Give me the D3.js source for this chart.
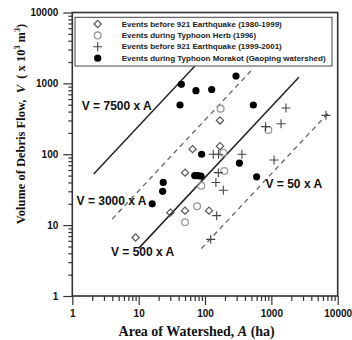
<!DOCTYPE html>
<html><head><meta charset="utf-8">
<script src="https://cdn.jsdelivr.net/npm/d3@7"></script>
<style>body{margin:0;background:#fff}svg{display:block}</style>
</head><body><svg id="c" width="352" height="340"></svg>
<script>
// ---------- data ----------
const tickValues = [1, 10, 100, 1000, 10000];
const tickLabels = ["1", "10", "100", "1000", "10000"];
const legendLabels = [
  "Events before 921 Earthquake (1980-1999)",
  "Events during Typhoon Herb (1996)",
  "Events before 921 Earthquake (1999-2001)",
  "Events during Typhoon Morakot (Gaoping watershed)"
];
// Events before 921 Earthquake (1980-1999)
const preQuakeA = [9, 30, 50, 50, 65, 168, 168, 115];
const preQuakeV = [6.7, 15, 16, 55, 118, 130, 300, 16];
// Events during Typhoon Herb (1996)
const herbA = [50, 76, 88, 172, 189, 195, 900];
const herbV = [11, 18.5, 36, 440, 105, 58, 220];
// Events 1999-2001
const postQuakeA = [133, 160, 159, 146, 189, 150, 122, 360, 820, 1400, 1660, 1100, 6650];
const postQuakeV = [100, 100, 55, 40, 31, 13.6, 6.3, 100, 245, 270, 450, 83, 354];
// Events during Typhoon Morakot
const morakotA = [44, 42, 73, 126, 293, 535, 89, 70, 78, 87, 330, 600, 23.5, 23, 16];
const morakotV = [970, 495, 790, 820, 1270, 495, 100, 50, 50, 49, 75, 48, 40, 30, 20];
// Reference lines V = k x A (as drawn on the picture)
const lineLabels = ["V = 7500 x A", "V = 3000 x A", "V = 500 x A", "V = 50 x A"];
const lineCoef = [25, 3.05, 0.47, 0.053];
const lineFrom = [2.1, 4, 10, 88];
const lineTo = [70, 490, 2600, 7500];
const lineDashed = [false, true, false, true];
// label anchor points in data units (A, V)
const labelA = [1.39, 1.16, 3.83, 817];
const labelV = [486, 22.2, 4.24, 38];

// ---------- drawing ----------
const svg = d3.select("#c");
const x = d3.scaleLog().domain([1, 10000]).range([72.3, 337.7]);
const y = d3.scaleLog().domain([1, 10000]).range([296, 12.5]);
const sans = "'Liberation Sans', Arial, sans-serif";
const serif = "'Liberation Serif', 'Times New Roman', serif";
const axisColor = "#333";

// minor ticks
const minorX = x.ticks().filter(v => !tickValues.includes(v));
const minorY = y.ticks().filter(v => !tickValues.includes(v));

const gx = svg.append("g").attr("transform", `translate(0,${y(1)})`);
gx.call(d3.axisBottom(x).tickValues(minorX).tickSize(5).tickFormat(""));
gx.call(g => g.select(".domain").remove());
const gx2 = svg.append("g").attr("transform", `translate(0,${y(1)})`)
  .call(d3.axisBottom(x).tickValues(tickValues).tickSize(9).tickPadding(5)
    .tickFormat((d, i) => tickLabels[i]));
gx2.select(".domain").remove();
gx2.selectAll("text").attr("font-family", sans).attr("font-weight", "bold")
  .attr("font-size", 10).attr("fill", "#111");

const gy = svg.append("g").attr("transform", `translate(${x(1)},0)`);
gy.call(d3.axisLeft(y).tickValues(minorY).tickSize(4).tickFormat(""));
gy.call(g => g.select(".domain").remove());
const gy2 = svg.append("g").attr("transform", `translate(${x(1)},0)`)
  .call(d3.axisLeft(y).tickValues(tickValues).tickSize(9).tickPadding(5)
    .tickFormat((d, i) => tickLabels[i]));
gy2.select(".domain").remove();
gy2.selectAll("text").attr("font-family", sans).attr("font-weight", "bold")
  .attr("font-size", 10).attr("fill", "#111");
svg.selectAll(".tick line").attr("stroke", axisColor).attr("stroke-width", 1.2);

// frame
svg.append("rect").attr("x", x(1)).attr("y", y(10000))
  .attr("width", x(10000) - x(1)).attr("height", y(1) - y(10000))
  .attr("fill", "none").attr("stroke", axisColor).attr("stroke-width", 1.6);

// reference lines
const lineGen = d3.line().x(d => x(d[0])).y(d => y(d[1]));
lineCoef.forEach((k, i) => {
  const pts = [[lineFrom[i], k * lineFrom[i]], [lineTo[i], k * lineTo[i]]];
  svg.append("path").attr("d", lineGen(pts)).attr("fill", "none")
    .attr("stroke", lineDashed[i] ? "#666" : "#222")
    .attr("stroke-width", lineDashed[i] ? 1.3 : 1.5)
    .attr("stroke-dasharray", lineDashed[i] ? "5,4" : null);
  svg.append("text").attr("x", x(labelA[i])).attr("y", y(labelV[i]))
    .attr("dominant-baseline", "central")
    .attr("font-family", sans).attr("font-weight", "bold").attr("font-size", 12)
    .attr("fill", "#111").text(lineLabels[i]);
});

// markers
function diamond(g, cx, cy) {
  const s = 3.6;
  g.append("path").attr("d", `M${cx},${cy - s}L${cx + s},${cy}L${cx},${cy + s}L${cx - s},${cy}Z`)
    .attr("fill", "none").attr("stroke", "#555").attr("stroke-width", 1.2);
}
function ocircle(g, cx, cy) {
  g.append("circle").attr("cx", cx).attr("cy", cy).attr("r", 3.4)
    .attr("fill", "none").attr("stroke", "#999").attr("stroke-width", 1.3);
}
function plus(g, cx, cy) {
  const s = 4.5;
  g.append("path").attr("d", `M${cx - s},${cy}H${cx + s}M${cx},${cy - s}V${cy + s}`)
    .attr("stroke", "#444").attr("stroke-width", 1.1);
}
function fcircle(g, cx, cy) {
  g.append("circle").attr("cx", cx).attr("cy", cy).attr("r", 3.6).attr("fill", "#000");
}
const pts = svg.append("g");
preQuakeA.forEach((a, i) => diamond(pts, x(a), y(preQuakeV[i])));
herbA.forEach((a, i) => ocircle(pts, x(a), y(herbV[i])));
postQuakeA.forEach((a, i) => plus(pts, x(a), y(postQuakeV[i])));
morakotA.forEach((a, i) => fcircle(pts, x(a), y(morakotV[i])));

// legend
const lg = svg.append("g");
lg.append("rect").attr("x", 75).attr("y", 17.3).attr("width", 257).attr("height", 48.7)
  .attr("fill", "#fff").attr("stroke", "#444").attr("stroke-width", 1);
const markerFns = [diamond, ocircle, plus, fcircle];
legendLabels.forEach((t, i) => {
  const ry = 24 + i * 11.4;
  markerFns[i](lg, 97.7, ry);
  lg.append("text").attr("x", 121.7).attr("y", ry).attr("dominant-baseline", "central")
    .attr("font-family", sans).attr("font-size", 8).attr("font-weight", "bold")
    .attr("fill", "#222").text(t);
});

// axis titles
const xt = svg.append("text").attr("x", 196.7).attr("y", 336).attr("text-anchor", "middle")
  .attr("font-family", serif).attr("font-weight", "bold").attr("font-size", 14).attr("fill", "#111");
xt.append("tspan").text("Area of Watershed, ");
xt.append("tspan").attr("font-style", "italic").text("A");
xt.append("tspan").text("  (ha)");

const yt = svg.append("text").attr("transform", "translate(24.5,124) rotate(-90)")
  .attr("text-anchor", "middle").attr("font-family", serif).attr("font-weight", "bold")
  .attr("font-size", 12.5).attr("fill", "#111").attr("xml:space", "preserve");
yt.append("tspan").text("Volume of Debris Flow,  ");
yt.append("tspan").attr("font-style", "italic").text("V");
yt.append("tspan").text("  ( x 10");
yt.append("tspan").attr("font-size", 8).attr("dy", -5).text("3");
yt.append("tspan").attr("dy", 5).text(" m");
yt.append("tspan").attr("font-size", 8).attr("dy", -5).text("3");
yt.append("tspan").attr("dy", 5).text(")");
</script></body></html>
